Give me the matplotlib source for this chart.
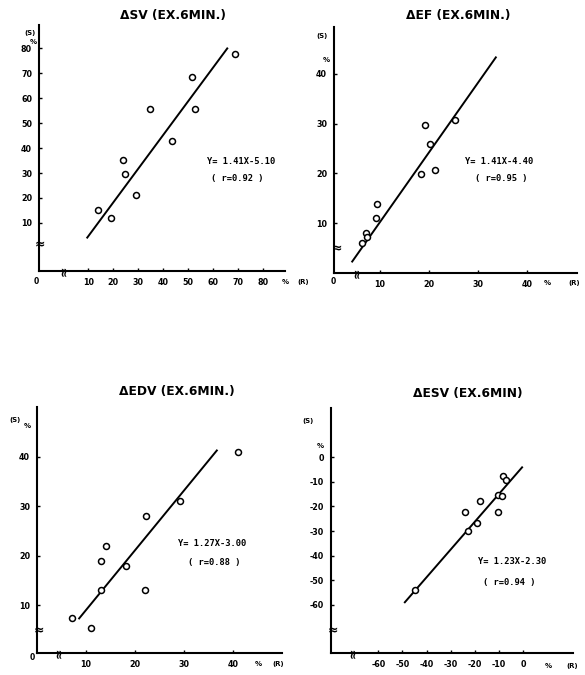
import numpy as np
import matplotlib
matplotlib.use('Agg')
import matplotlib.pyplot as plt

plt.rcParams['font.family'] = 'DejaVu Sans'
plt.rcParams['font.weight'] = 'bold'
plt.rcParams['axes.unicode_minus'] = False

W, H = 585, 675

# dados
sv_x = [13.7, 18.9, 24.0, 24.8, 29.1, 34.8, 43.6, 51.6, 52.7, 68.7]
sv_y = [15.1, 12.1, 35.2, 29.8, 21.1, 55.8, 42.7, 68.6, 55.6, 77.6]
sv_fit_x = [9.6, 65.6]
sv_fit_y = [4.1, 80.0]

ef_x = [6.3, 7.3, 7.4, 9.3, 9.4, 18.3, 19.3, 20.3, 21.2, 25.2]
ef_y = [6.0, 8.0, 7.2, 11.0, 13.9, 19.8, 29.7, 25.9, 20.7, 30.7]
ef_fit_x = [4.4, 33.6]
ef_fit_y = [2.3, 43.3]

edv_x = [7.1, 11.0, 13.0, 13.0, 14.1, 18.1, 22.1, 22.2, 29.2, 41.1]
edv_y = [7.4, 5.3, 13.0, 18.9, 22.0, 17.9, 13.0, 28.0, 31.0, 40.9]
edv_fit_x = [8.6, 36.7]
edv_fit_y = [7.3, 41.3]

esv_x = [-44.8, -24.1, -22.8, -18.9, -17.7, -10.2, -10.5, -8.7, -8.3, -7.2]
esv_y = [-54.1, -22.1, -29.8, -26.7, -17.8, -22.2, -15.2, -15.9, -7.7, -9.1]
esv_fit_x = [-49.0, -0.4]
esv_fit_y = [-58.9, -4.1]

titles = ['\u0394SV (EX.6MIN.)', '\u0394EF (EX.6MIN.)', '\u0394EDV (EX.6MIN.)', '\u0394ESV (EX.6MIN)']
equations = ['Y= 1.41X-5.10', 'Y= 1.41X-4.40', 'Y= 1.27X-3.00', 'Y= 1.23X-2.30']
r_labels = ['( r=0.92 )', '( r=0.95 )', '( r=0.88 )', '( r=0.94 )']
xticks = [[10, 20, 30, 40, 50, 60, 70, 80], [10, 20, 30, 40], [10, 20, 30, 40], [-60, -50, -40, -30, -20, -10, 0]]
yticks = [[10, 20, 30, 40, 50, 60, 70, 80], [10, 20, 30, 40], [10, 20, 30, 40], [-60, -50, -40, -30, -20, -10, 0]]

# layout em pixels: left, right, bottom, top
rects = [(39, 285, 271, 25), (334, 577, 273, 27), (37, 282, 653, 407), (331, 573, 653, 408)]
xlims = [(-9.7, 88.7), (0.7, 50.1), (0, 50), (-79.6, 20.7)]
ylims = [(-9.3, 89.4), (0, 49.4), (0.3, 50.1), (-79.5, 20)]
title_pos = [(173, 15), (458, 15), (177, 392), (468, 393)]
eq_pos = [(207, 161), (465, 162), (178, 543), (478, 562)]
r_pos = [(211, 178), (475, 178), (188, 562), (483, 582)]
s_pos = [(30, 33), (322, 36), (15, 420), (308, 421)]
pct_pos = [(33, 42), (326, 60), (27, 426), (320, 446)]
ybreak = [(40, 245), (337, 249), (39, 631), (333, 631)]
xbreak = [(65, 271), (358, 273), (60, 653), (354, 653)]
xend = [(285, 303, 282), (547, 574, 283), (258, 278, 664), (548, 572, 666)]
zero_pos = [(36, 282), (333, 282), (32, 657), None]

series = [(sv_x, sv_y, sv_fit_x, sv_fit_y), (ef_x, ef_y, ef_fit_x, ef_fit_y),
          (edv_x, edv_y, edv_fit_x, edv_fit_y), (esv_x, esv_y, esv_fit_x, esv_fit_y)]

fig = plt.figure(figsize=(W / 100, H / 100), dpi=100)

def ftext(x, y, s, **kw):
    fig.text(x / W, 1 - y / H, s, **kw)

for i in range(4):
    l, r, b, t = rects[i]
    ax = fig.add_axes([l / W, 1 - b / H, (r - l) / W, (b - t) / H])
    x, y, fx, fy = series[i]
    ax.plot(fx, fy, color='black', lw=1.4)
    ax.plot(x, y, 'o', mfc='white', mec='black', mew=1.1, ms=4.3)
    ax.set_xlim(*xlims[i])
    ax.set_ylim(*ylims[i])
    ax.set_xticks(xticks[i])
    ax.set_yticks(yticks[i])
    ax.spines['top'].set_visible(False)
    ax.spines['right'].set_visible(False)
    ax.spines['left'].set_linewidth(1.5)
    ax.spines['bottom'].set_linewidth(1.5)
    ax.tick_params(direction='in', length=2, width=1, labelsize=5.8, pad=5)
    ax.patch.set_alpha(0)

    ftext(*title_pos[i], titles[i], ha='center', va='center', fontsize=8.8)
    ftext(*eq_pos[i], equations[i], ha='left', va='center', fontsize=6.3, family='DejaVu Sans Mono')
    ftext(*r_pos[i], r_labels[i], ha='left', va='center', fontsize=6.3, family='DejaVu Sans Mono')
    ftext(*s_pos[i], '(S)', ha='center', va='center', fontsize=5)
    ftext(*pct_pos[i], '%', ha='center', va='center', fontsize=5)
    ftext(*ybreak[i], '\u2248', ha='center', va='center', fontsize=9)
    ftext(*xbreak[i], '\u2248', ha='center', va='center', fontsize=9, rotation=90)
    ftext(xend[i][0], xend[i][2], '%', ha='center', va='center', fontsize=5)
    ftext(xend[i][1], xend[i][2], '(R)', ha='center', va='center', fontsize=5)
    if zero_pos[i] is not None:
        ftext(*zero_pos[i], '0', ha='center', va='center', fontsize=5.5)

fig.savefig('out.png', dpi=100)
